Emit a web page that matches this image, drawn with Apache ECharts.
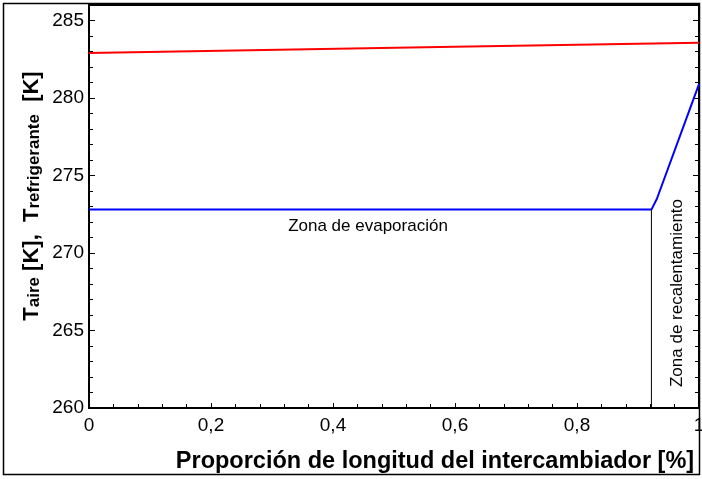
<!DOCTYPE html>
<html>
<head>
<meta charset="utf-8">
<script src="https://cdn.jsdelivr.net/npm/echarts@6/dist/echarts.min.js"></script>
<style>
html,body{margin:0;padding:0;background:#fff;}
#c{width:702px;height:479px;}
</style>
</head>
<body>
<div id="c"></div>
<script>
// Data
const airX = [0, 0.575, 1];
const airT = [282.91, 283.29, 283.56];
const refX = [0, 0.922, 0.931, 1];
const refT = [272.8, 272.8, 273.5, 280.9];
const dividerX = [0.922, 0.922];
const dividerT = [260, 272.8];
const yTicks = [260, 265, 270, 275, 280, 285];
const xTicks = [0, 0.2, 0.4, 0.6, 0.8, 1];

const zip = (a, b) => a.map((v, i) => [v, b[i]]);
const FONT = 'Liberation Sans, Arial, sans-serif';

const yBase = {
  type: 'value', min: 260, max: 286, interval: 5,
  axisLine: {show: false},
  axisTick: {show: true, inside: true, length: 6, lineStyle: {color: '#000'}},
  minorTick: {show: true, splitNumber: 5, length: 4, lineStyle: {color: '#000'}},
  splitLine: {show: false}
};

const chart = echarts.init(document.getElementById('c'));
chart.setOption({
  animation: false,
  backgroundColor: '#fff',
  grid: {left: 89, right: 3, top: 5, bottom: 71, show: true, borderColor: '#000', borderWidth: 2, outerBoundsMode: 'none', containLabel: false},
  xAxis: {
    type: 'value', min: 0, max: 1, interval: 0.2,
    axisLine: {show: false},
    axisTick: {show: true, inside: true, length: 5, lineStyle: {color: '#000'}},
    minorTick: {show: true, splitNumber: 5, length: 4, lineStyle: {color: '#000'}},
    splitLine: {show: false},
    axisLabel: {color: '#000', fontSize: 19, fontFamily: FONT, margin: 8, hideOverlap: false,
      formatter: v => xTicks.includes(Math.round(v * 10) / 10) ? (Math.round(v * 10) / 10).toString().replace('.', ',') : ''},
    name: 'Proporción de longitud del intercambiador [%]',
    nameLocation: 'middle', nameGap: 42,
    nameTextStyle: {color: '#000', fontSize: 23.5, fontWeight: 'bold', fontFamily: FONT, padding: [0, 0, 0, 82]}
  },
  yAxis: [
    Object.assign({}, yBase, {
      position: 'left',
      axisLabel: {color: '#000', fontSize: 19, fontFamily: FONT, margin: 5,
        formatter: v => yTicks.includes(v) ? String(v) : ''}
    }),
    Object.assign({}, yBase, {position: 'right', axisLabel: {show: false}})
  ],
  series: [
    {type: 'line', data: zip(airX, airT), showSymbol: false, lineStyle: {color: '#ff0000', width: 2}},
    {type: 'line', data: zip(refX, refT), showSymbol: false, lineStyle: {color: '#0000ff', width: 2}},
    {type: 'line', data: zip(dividerX, dividerT), showSymbol: false, lineStyle: {color: '#000', width: 1}}
  ],
  graphic: [
    {type: 'rect', shape: {x: 3.5, y: 3.5, width: 696, height: 471}, style: {fill: 'none', stroke: '#000', lineWidth: 1.5}, silent: true, z: -1},
    {type: 'text', x: 368, y: 226, style: {text: 'Zona de evaporación', font: '17px ' + FONT, fill: '#000', textAlign: 'center', textVerticalAlign: 'middle'}},
    {type: 'text', x: 677, y: 293, rotation: Math.PI / 2, style: {text: 'Zona de recalentamiento', font: '17px ' + FONT, fill: '#000', textAlign: 'center', textVerticalAlign: 'middle'}},
    {type: 'text', x: 30, y: 196, rotation: Math.PI / 2, style: {
      text: '{b|T}{s|aire}{b| [K],  T}{s|refrigerante}{b|  [K]}',
      fill: '#000', textAlign: 'center', textVerticalAlign: 'middle',
      rich: {
        b: {fontSize: 22, fontWeight: 'bold', fontFamily: FONT, fill: '#000', verticalAlign: 'bottom', lineHeight: 26},
        s: {fontSize: 17, fontWeight: 'bold', fontFamily: FONT, fill: '#000', verticalAlign: 'bottom', lineHeight: 26, padding: [10, 0, 0, 0]}
      }
    }}
  ]
});
</script>
</body>
</html>
